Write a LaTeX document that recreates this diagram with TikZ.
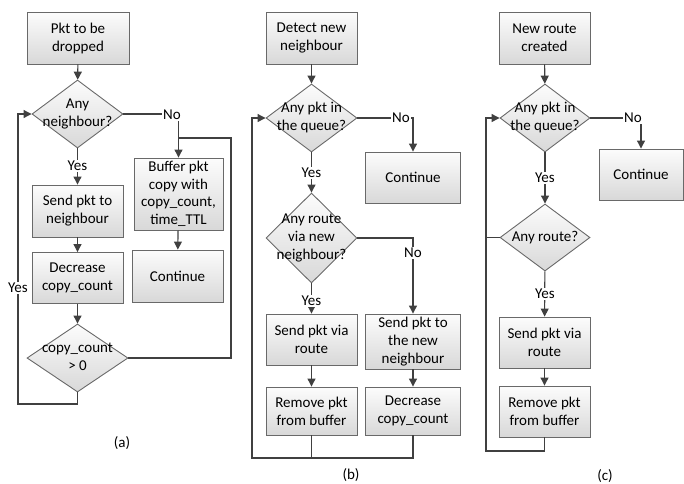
\documentclass[tikz,border=0pt]{standalone}
\usepackage{fontspec}
\setmainfont{Carlito}
\usetikzlibrary{shapes.geometric,arrows.meta}
\definecolor{edgec}{RGB}{64,64,64}
\definecolor{bordc}{RGB}{105,105,105}
\definecolor{ftop}{RGB}{252,252,252}
\definecolor{fbot}{RGB}{216,216,216}
\newcommand\dtext[1]{\makebox[0pt]{\begin{tabular}{@{}c@{}}#1\end{tabular}}}
\begin{document}
\begin{tikzpicture}[x=1pt,y=-1pt,
  font=\fontsize{15}{18}\selectfont,
  proc/.style={draw=bordc, line width=0.9pt, top color=ftop, bottom color=fbot,
    align=center, inner sep=1pt, minimum width=91pt, minimum height=52pt},
  dec/.style={diamond, draw=bordc, line width=0.9pt, top color=ftop, bottom color=fbot,
    inner sep=0pt, minimum width=91pt, minimum height=68pt},
  arr/.style={draw=edgec, line width=1.1pt, -{Triangle[width=8pt,length=8pt]}},
  ln/.style={draw=edgec, line width=1.1pt},
  lbl/.style={fill=white, inner sep=1pt},
  subcap/.style={inner sep=1pt}]
\useasboundingbox (0,0) rectangle (684,483);

% ---------- (a) ----------
\node[proc, minimum width=102pt] (a1) at (78,38) {Pkt to be\\dropped};
\node[dec] (a2) at (77.5,114) {\dtext{Any\\neighbour?}};
\node[proc] (a3) at (77.5,211) {Send pkt to\\neighbour};
\node[proc, minimum width=89pt, minimum height=72pt, font=\fontsize{15}{17.5}\selectfont] (a4) at (178.5,194) {Buffer pkt\\copy with\\copy\_count,\\time\_TTL};
\node[proc] (a5) at (177.5,276) {Continue};
\node[proc, minimum height=51pt] (a6) at (77.5,278) {Decrease\\copy\_count};
\node[dec, minimum width=101pt] (a7) at (77.5,358) {\dtext{copy\_count\\> 0}};
\coordinate (la) at (18,404);
\coordinate (ra) at (231,358);
\coordinate (ja) at (178.5,138);

\draw[arr] (a1) -- (a2);
\draw[arr] (a2) -- (a3);
\draw[arr] (a2.east) -| (a4.north);
\draw[arr] (a3) -- (a6);
\draw[arr] (a6) -- (a7);
\draw[arr] (a4) -- (a5);
\draw[ln] (a7.east) -- (ra) |- (ja);
\draw[arr] (a7.south) |- (la) |- (a2.west);
\node[lbl] (na1) at (172,115) {No};
\node[lbl] (ya1) at (77.5,166) {Yes};
\node[lbl] (ya2) at (18,288) {Yes};
\node[subcap] (capa) at (122,443) {(a)};

% ---------- (b) ----------
\node[proc] (b1) at (311.5,38) {Detect new\\neighbour};
\node[dec] (b2) at (311.5,118) {\dtext{Any pkt in\\the queue?}};
\node[proc, minimum width=95pt, minimum height=51pt] (bc) at (413,177.5) {Continue};
\node[dec, minimum height=90pt] (b3) at (311.5,238) {\dtext{Any route\\via new\\neighbour?}};
\node[proc, minimum height=51pt] (b4) at (311.5,339.5) {Send pkt via\\route};
\node[proc, minimum width=95pt, minimum height=55pt] (b5) at (413,341.5) {Send pkt to\\the new\\neighbour};
\node[proc, minimum height=48pt] (b6) at (311.5,411) {Remove pkt\\from buffer};
\node[proc, minimum width=95pt, minimum height=48pt] (b7) at (413,411) {Decrease\\copy\_count};
\coordinate (lb) at (252,458);

\draw[arr] (b1) -- (b2);
\draw[arr] (b2.east) -| (bc.north);
\draw[arr] (b2) -- (b3);
\draw[arr] (b3.east) -| (b5.north);
\draw[arr] (b3) -- (b4);
\draw[arr] (b4) -- (b6);
\draw[arr] (b5) -- (b7);
\draw[ln] (b7.south) |- (lb);
\draw[arr] (b6.south) |- (lb) |- (b2.west);
\node[lbl] (nb1) at (401,118) {No};
\node[lbl] (yb1) at (311.5,173) {Yes};
\node[lbl] (nb2) at (413,253) {No};
\node[lbl] (yb2) at (311.5,301) {Yes};
\node[subcap] (capb) at (351,475) {(b)};

% ---------- (c) ----------
\node[proc] (c1) at (544.5,38) {New route\\created};
\node[dec, minimum width=90pt] (c2) at (545,118) {\dtext{Any pkt in\\the queue?}};
\node[proc, minimum width=84pt, minimum height=51pt] (cc) at (641,174.5) {Continue};
\node[dec, minimum width=90pt, minimum height=67pt] (c3) at (545,237.5) {\dtext{Any route?}};
\node[proc, minimum height=51pt] (c4) at (544.5,342.5) {Send pkt via\\route};
\node[proc, minimum height=51pt] (c5) at (544.5,411.5) {Remove pkt\\from buffer};
\coordinate (lc) at (486,451);

\draw[arr] (c1) -- (c2);
\draw[arr] (c2.east) -| (cc.north);
\draw[arr] (c2) -- (c3);
\draw[arr] (c3) -- (c4);
\draw[arr] (c4) -- (c5);
\draw[ln] (c3.west) -- (c3.west -| lc);
\draw[arr] (c5.south) |- (lc) |- (c2.west);
\node[lbl] (nc1) at (633,118) {No};
\node[lbl] (yc1) at (545,178) {Yes};
\node[lbl] (yc2) at (545,294) {Yes};
\node[subcap] (capc) at (605,476) {(c)};
\end{tikzpicture}
\end{document}
